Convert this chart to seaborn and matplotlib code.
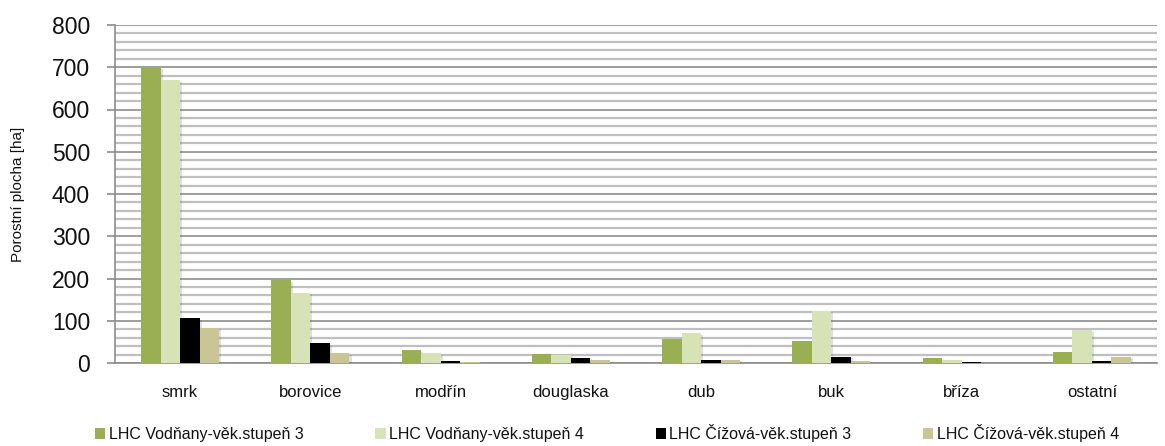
import matplotlib
matplotlib.use("Agg")
import matplotlib.pyplot as plt
import matplotlib.patches as mpatches
import matplotlib.patheffects as pe
from matplotlib.ticker import MultipleLocator
import pandas as pd
import seaborn as sns

categories = ["smrk", "borovice", "modřín", "douglaska", "dub", "buk", "bříza", "ostatní"]
series_names = [
    "LHC Vodňany-věk.stupeň 3",
    "LHC Vodňany-věk.stupeň 4",
    "LHC Čížová-věk.stupeň 3",
    "LHC Čížová-věk.stupeň 4",
]
vodnany_3 = [700, 196, 30, 21, 56, 52, 11, 27]
vodnany_4 = [669, 166, 23, 20, 70, 124, 6, 77]
cizova_3 = [106, 47, 4, 13, 6, 15, 2, 4]
cizova_4 = [84, 23, 3, 6, 7, 5, 1, 14]
colors = ["#9AAF53", "#D7E3B7", "#000000", "#C9C595"]

rows = []
for name, vals in zip(series_names, [vodnany_3, vodnany_4, cizova_3, cizova_4]):
    for cat, v in zip(categories, vals):
        rows.append({"druh": cat, "serie": name, "plocha": v})
df = pd.DataFrame(rows)

sns.set_theme(style="white")
plt.rcParams["font.family"] = ["Liberation Sans", "DejaVu Sans"]

fig = plt.figure(figsize=(11.65, 4.46), dpi=100)
ax = fig.add_axes([115 / 1165, 1 - 363 / 446, (1157 - 115) / 1165, (363 - 25) / 446])

sns.barplot(data=df, x="druh", y="plocha", hue="serie", hue_order=series_names,
            palette=colors, width=0.6, saturation=1, ax=ax, legend=False,
            edgecolor="none", linewidth=0, zorder=3)

# soft drop shadow on the bars
for bar in ax.patches:
    bar.set_path_effects([pe.SimplePatchShadow(offset=(1.5, -1), alpha=0.18, shadow_rgbFace="#555555"),
                          pe.Normal()])

ax.set_ylim(0, 800)
ax.set_xlim(-0.5, len(categories) - 0.5)
ax.yaxis.set_major_locator(MultipleLocator(100))
ax.yaxis.set_minor_locator(MultipleLocator(20))
ax.grid(which="minor", axis="y", color="#BFBFBF", linewidth=1.6, zorder=0)
ax.grid(which="major", axis="y", color="#8C8C8C", linewidth=1.2, zorder=1)
ax.set_axisbelow(True)

for side in ["top", "right"]:
    ax.spines[side].set_visible(False)
ax.spines["left"].set_color("#8C8C8C")
ax.spines["left"].set_linewidth(1.2)
ax.spines["bottom"].set_color("#8C8C8C")
ax.spines["bottom"].set_linewidth(1.2)

ax.tick_params(axis="y", which="major", left=True, length=6, width=1.2, color="#8C8C8C",
               labelsize=16.5, pad=12, labelcolor="#111111")
ax.tick_params(axis="y", which="minor", left=False)
ax.tick_params(axis="x", bottom=False, labelsize=12, pad=10, labelcolor="#111111")
ax.set_xlabel("")
ax.set_ylabel("Porostní plocha [ha]", fontsize=11, color="#111111")
ax.yaxis.set_label_coords(-0.086, 0.5)

handles = [mpatches.Patch(facecolor=c, edgecolor="none", label=n) for c, n in zip(colors, series_names)]
fig.legend(handles=handles, loc="center", bbox_to_anchor=(0.521, 1 - 433 / 446),
           ncol=4, frameon=False, fontsize=11.5, handlelength=0.65, handleheight=0.65,
           handletextpad=0.2, columnspacing=4.5, labelcolor="#111111")

fig.savefig("out.png", dpi=100)
